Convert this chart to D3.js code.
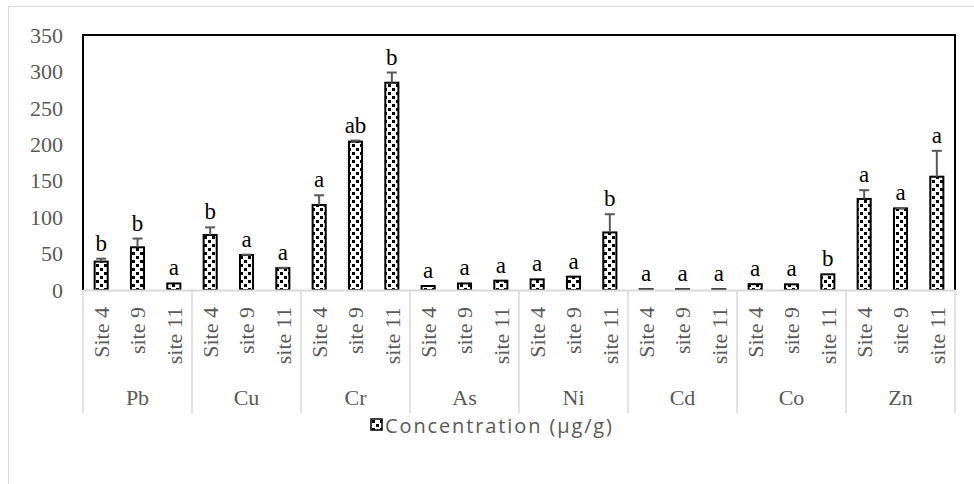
<!DOCTYPE html>
<html><head><meta charset="utf-8">
<script src="https://cdn.jsdelivr.net/npm/d3@7"></script>
<style>body{margin:0;background:#fff}svg{display:block}
.serif{font-family:"Liberation Serif","Times New Roman",serif}
.sans{font-family:"Open Sans","Liberation Sans",sans-serif}
</style>
</head><body>
<svg id="c" width="974" height="484"></svg>
<script>
const metals = ["Pb","Cu","Cr","As","Ni","Cd","Co","Zn"];
const sites = ["Site 4","site 9","site 11"];
const values = [
  [39, 58.6, 9],
  [75.5, 48, 30],
  [116.7, 203.6, 284.5],
  [5.5, 9, 12.8],
  [14.6, 18.3, 79],
  [1, 1, 1],
  [8, 7.8, 21.5],
  [125, 112, 155.5]
];
const errors = [
  [4, 12, 0],
  [10.5, 0.5, 0.5],
  [13.3, 1.5, 14],
  [0, 0, 0],
  [0, 0, 25],
  [0, 0, 0],
  [0, 0, 0],
  [12, 0.5, 35.5]
];
const letters = [
  ["b","b","a"],
  ["b","a","a"],
  ["a","ab","b"],
  ["a","a","a"],
  ["a","a","b"],
  ["a","a","a"],
  ["a","a","b"],
  ["a","a","a"]
];
const yTicks = [0,50,100,150,200,250,300,350];
const legendLabel = "Concentration (μg/g)";

const svg = d3.select("#c");
const L = 83, R = 955, T = 35, B = 290;

svg.append("rect").attr("x",8.5).attr("y",6.5).attr("width",1000).attr("height",1000)
  .attr("fill","none").attr("stroke","#d9d9d9").attr("stroke-width",1);

const defs = svg.append("defs");
const pat = defs.append("pattern").attr("id","dots").attr("patternUnits","userSpaceOnUse")
  .attr("width",8).attr("height",8);
pat.append("rect").attr("width",8).attr("height",8).attr("fill","#fff");
pat.append("rect").attr("x",0).attr("y",0).attr("width",3).attr("height",3).attr("fill","#000");
pat.append("rect").attr("x",4).attr("y",4).attr("width",3).attr("height",3).attr("fill","#000");

const x0 = d3.scaleBand().domain(metals).range([L,R]).padding(0);
const x1 = d3.scaleBand().domain(sites).range([0,x0.bandwidth()]).paddingInner(0.64).paddingOuter(0.32);
const y = d3.scaleLinear().domain([0,350]).range([B,T]);

svg.append("g").attr("class","serif").selectAll("text").data(yTicks).join("text")
  .attr("x",63).attr("y",d=>y(d)).attr("dy","0.35em").attr("text-anchor","end")
  .attr("font-size",22).attr("fill","#595959").text(d=>d);

const flat = [];
metals.forEach((m,i)=>sites.forEach((s,j)=>flat.push({m,s,v:values[i][j],e:errors[i][j],l:letters[i][j]})));

svg.append("g").selectAll("rect").data(flat).join("rect")
  .attr("x",d=>x0(d.m)+x1(d.s)).attr("width",x1.bandwidth())
  .attr("y",d=>y(d.v)).attr("height",d=>B-y(d.v))
  .attr("fill","url(#dots)").attr("stroke","#000").attr("stroke-width",2);

const eg = svg.append("g").attr("stroke","#595959").attr("stroke-width",2);
flat.filter(d=>d.e>0).forEach(d=>{
  const cx = x0(d.m)+x1(d.s)+x1.bandwidth()/2;
  eg.append("line").attr("x1",cx).attr("x2",cx).attr("y1",y(d.v)).attr("y2",y(d.v+d.e));
  eg.append("line").attr("x1",cx-5).attr("x2",cx+5).attr("y1",y(d.v+d.e)).attr("y2",y(d.v+d.e));
});

svg.append("g").attr("class","serif").selectAll("text").data(flat).join("text")
  .attr("x",d=>x0(d.m)+x1(d.s)+x1.bandwidth()/2)
  .attr("y",d=>y(d.v+d.e)-8).attr("text-anchor","middle")
  .attr("font-size",23).attr("fill","#000").text(d=>d.l);

svg.append("path").attr("d",`M${L},${B}V${T}H${R}V${B}`).attr("fill","none")
  .attr("stroke","#000").attr("stroke-width",2);

svg.append("line").attr("x1",L).attr("x2",R).attr("y1",B+0.5).attr("y2",B+0.5)
  .attr("stroke","#d9d9d9").attr("stroke-width",2);

svg.append("g").selectAll("line").data(metals.concat(["__end"])).join("line")
  .attr("x1",d=>d==="__end"?R:x0(d)).attr("x2",d=>d==="__end"?R:x0(d))
  .attr("y1",B).attr("y2",413).attr("stroke","#d9d9d9").attr("stroke-width",1.5);

svg.append("g").attr("class","serif").selectAll("text").data(flat).join("text")
  .attr("transform",d=>`translate(${x0(d.m)+x1(d.s)+x1.bandwidth()/2},307) rotate(-90)`)
  .attr("dy","0.35em").attr("text-anchor","end")
  .attr("font-size",22).attr("fill","#595959").text(d=>d.s);

svg.append("g").attr("class","serif").selectAll("text").data(metals).join("text")
  .attr("x",d=>x0(d)+x0.bandwidth()/2).attr("y",397).attr("dy","0.35em").attr("text-anchor","middle")
  .attr("font-size",22).attr("fill","#595959").text(d=>d);

const lg = svg.append("g");
lg.append("rect").attr("x",371).attr("y",419).attr("width",11).attr("height",11)
  .attr("fill","url(#dots)").attr("stroke","#000").attr("stroke-width",1.5);
lg.append("text").attr("class","sans").attr("x",385).attr("y",426).attr("dy","0.35em")
  .attr("font-size",20).attr("textLength",227).attr("lengthAdjust","spacing").attr("fill","#595959")
  .text(legendLabel);
</script>
</body></html>
